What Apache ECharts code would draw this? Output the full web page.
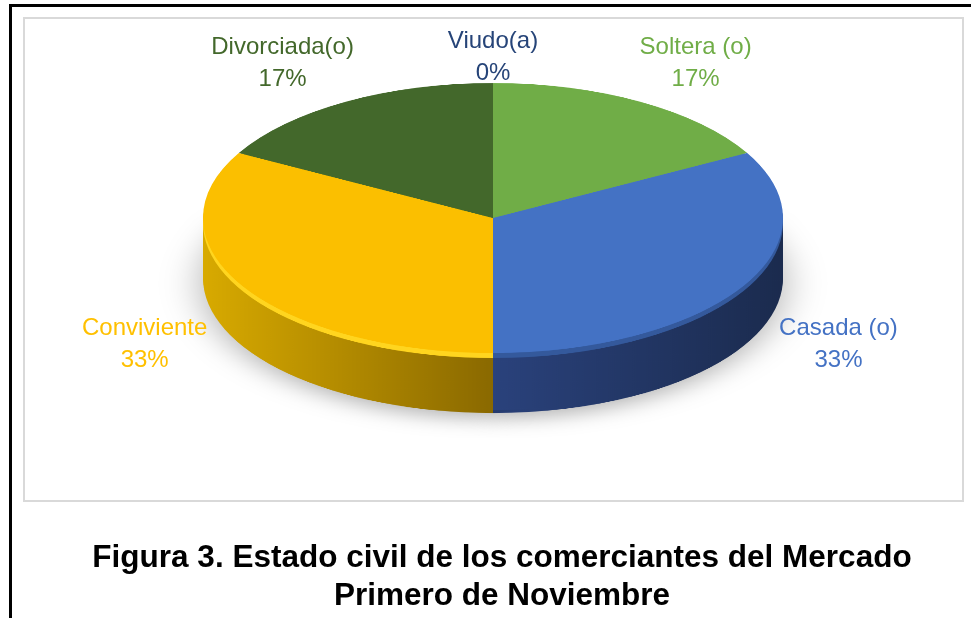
<!DOCTYPE html>
<html>
<head>
<meta charset="utf-8">
<script src="https://cdn.jsdelivr.net/npm/echarts@6/dist/echarts.min.js"></script>
<style>
  html, body { margin: 0; padding: 0; background: #fff; overflow: hidden; }
  #page { position: relative; width: 971px; height: 618px; overflow: hidden; }
  #frame { position: absolute; left: 9px; top: 4px; width: 980px; height: 700px;
    border-top: 3px solid #000; border-left: 3px solid #000; }
  #box { position: absolute; left: 23px; top: 17px; width: 937px; height: 481px;
    border: 2px solid #d9d9d9; }
  #disk { position: absolute; left: 0; top: 0; width: 971px; height: 1100px;
    transform-origin: 0 0; }
  #labels { position: absolute; left: 0; top: 0; width: 971px; height: 618px; }
</style>
</head>
<body>
<div id="page">
  <div id="frame"></div>
  <div id="box"></div>
  <div id="disk"></div>
  <div id="labels"></div>
</div>
<script>
// data (clockwise from 12 o'clock)
var categories = ['Soltera (o)', 'Casada (o)', 'Conviviente', 'Divorciada(o)', 'Viudo(a)'];
var values = [17, 33, 33, 17, 0];

// styles
var topColors = ['#70ad47', '#4472c4', '#fbbf00', '#43682b', '#264478'];
var bevelColors = ['#7cbb52', '#34599c', '#ffd51f', '#4a7230', '#2b4c85'];
var sideColors = [['#4f7b32', '#3d6027'], ['#2a427c', '#1b2b4e'], ['#d8aa00', '#8a6900'],
                  ['#2f4a1e', '#243a17'], ['#1c3257', '#16284a']];
var labelColors = ['#70ad47', '#4472c4', '#ffc000', '#43682b', '#264478'];

(function() {
  // disk geometry on screen
  var cx = 493, cy = 218, rx = 290, ry = 135, depth = 60, bevel = 5;
  var k = ry / rx;
  var diskEl = document.getElementById('disk');
  diskEl.style.transform = 'scaleY(' + k + ')';
  var cyIn = cy / k, depthIn = depth / k, bevelIn = bevel / k;

  function layer(off, colorFn, z, extra) {
    return Object.assign({
      type: 'pie',
      silent: true,
      center: [cx, cyIn + off],
      radius: rx,
      startAngle: 90,
      clockwise: true,
      avoidLabelOverlap: false,
      label: { show: false },
      labelLine: { show: false },
      z: z,
      data: categories.map(function(name, i) {
        return { name: name, value: values[i], itemStyle: { color: colorFn(i), borderWidth: 0 } };
      })
    }, extra || {});
  }

  function sideColor(i) {
    return {
      type: 'linear', x: 0, y: 0, x2: 1, y2: 0,
      colorStops: [
        { offset: 0, color: sideColors[i][0] },
        { offset: 1, color: sideColors[i][1] }
      ]
    };
  }

  var series = [];
  // shadow + side wall, deepest first
  var steps = 20;
  for (var j = 0; j <= steps; j++) {
    var off = depthIn - j * (depthIn - bevelIn) / steps;
    var extra = null;
    if (j === 0) {
      extra = { itemStyle: { shadowBlur: 40, shadowColor: 'rgba(0,0,0,0.3)', shadowOffsetY: 12 } };
    }
    series.push(layer(off, sideColor, 1, extra));
  }
  series.push(layer(bevelIn, function(i) { return bevelColors[i]; }, 2));
  series.push(layer(0, function(i) { return topColors[i]; }, 3));

  var disk = echarts.init(diskEl);
  disk.setOption({ animation: false, series: series });

  // labels + caption
  var total = values.reduce(function(a, b) { return a + b; }, 0);
  function midAngle(idx) {
    var acc = 0;
    for (var i = 0; i < idx; i++) acc += values[i];
    return (acc + values[idx] / 2) / total * 2 * Math.PI;
  }

  var labels = echarts.init(document.getElementById('labels'));
  labels.setOption({
    animation: false,
    series: [{
      type: 'pie',
      silent: true,
      center: [cx, cy],
      radius: 100,
      startAngle: 90,
      avoidLabelOverlap: false,
      itemStyle: { color: 'rgba(0,0,0,0)', borderWidth: 0 },
      labelLine: { show: false },
      label: {
        show: true,
        position: 'outside',
        fontFamily: '"Liberation Sans", Arial, sans-serif',
        fontSize: 24,
        lineHeight: 32,
        formatter: function(p) { return p.name + '\n' + Math.round(p.percent) + '%'; }
      },
      labelLayout: function(p) {
        var t = midAngle(p.dataIndex);
        var s = Math.sin(t), c = Math.cos(t);
        var w = p.labelRect.width, h = p.labelRect.height;
        var x, y;
        if (values[p.dataIndex] === 0) {
          // empty slice: label sits on the rim
          x = cx + rx * s + s * w / 2;
          y = cy - (ry - 6) * c - c * h / 2;
        } else {
          x = cx + 342 * s + s * w / 2;
          y = 240 - 173 * c - c * h / 2;
        }
        return { x: x, y: y, align: 'center', verticalAlign: 'middle' };
      },
      data: categories.map(function(name, i) {
        return { name: name, value: values[i], label: { color: labelColors[i] } };
      })
    }],
    graphic: [{
      type: 'text',
      x: 502,
      y: 577,
      style: {
        text: 'Figura 3. Estado civil de los comerciantes del Mercado\nPrimero de Noviembre',
        font: 'bold 31.5px "Liberation Sans", Arial, sans-serif',
        fill: '#000',
        align: 'center',
        textAlign: 'center',
        verticalAlign: 'middle',
        textVerticalAlign: 'middle',
        lineHeight: 38
      }
    }]
  });
})();
</script>
</body>
</html>
